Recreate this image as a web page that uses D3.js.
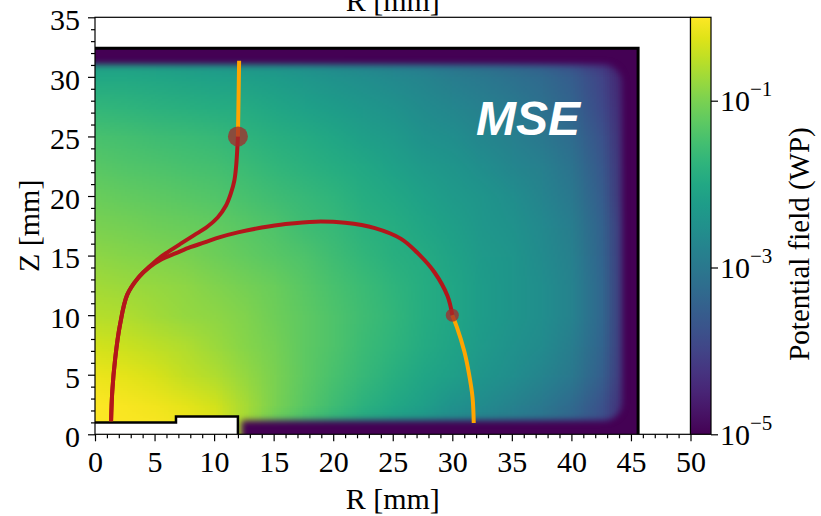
<!DOCTYPE html>
<html>
<head>
<meta charset="utf-8">
<script src="https://cdn.jsdelivr.net/npm/d3@7"></script>
<style>
	body { margin: 0; background: #fff; }
	svg { display: block; }
</style>
</head>
<body>
<svg id="plot" width="821" height="516"></svg>
<script>

const gridR = [0, 2.5, 5, 7.5, 10, 12.5, 15, 17.5, 20, 22.5, 25, 27.5, 30, 32.5, 35, 37.5, 40, 42.5, 45];
const gridZ = [0, 2.5, 5, 7.5, 10, 12.5, 15, 17.5, 20, 22.5, 25, 27.5, 30, 32.5];

// log10(WP), one row per gridZ value, columns follow gridR
const logWP = [
	[0, 0, 0, -0.05, -0.15, -0.7, -1.3, -1.7, -2.0, -2.25, -2.45, -2.6, -2.8, -2.95, -3.1, -3.25, -3.5, -3.9, -4.6],
	[0, -0.05, -0.1, -0.2, -0.35, -0.65, -1.0, -1.3, -1.55, -1.8, -2.0, -2.2, -2.45, -2.6, -2.8, -3.0, -3.3, -3.75, -4.6],
	[-0.15, -0.2, -0.3, -0.45, -0.6, -0.8, -1.0, -1.25, -1.45, -1.65, -1.85, -2.05, -2.2, -2.4, -2.55, -2.75, -3.0, -3.5, -4.5],
	[-0.35, -0.4, -0.5, -0.6, -0.75, -0.9, -1.05, -1.25, -1.4, -1.6, -1.75, -1.95, -2.1, -2.3, -2.45, -2.6, -2.9, -3.4, -4.5],
	[-0.55, -0.6, -0.7, -0.8, -0.85, -0.95, -1.1, -1.25, -1.4, -1.55, -1.7, -1.9, -2.05, -2.25, -2.4, -2.55, -2.8, -3.35, -4.5],
	[-0.7, -0.75, -0.8, -0.85, -0.95, -1.05, -1.15, -1.3, -1.45, -1.6, -1.75, -1.9, -2.05, -2.25, -2.4, -2.55, -2.8, -3.35, -4.5],
	[-0.85, -0.9, -0.95, -1.0, -1.1, -1.2, -1.3, -1.4, -1.55, -1.7, -1.85, -1.95, -2.1, -2.3, -2.4, -2.6, -2.85, -3.4, -4.5],
	[-1.0, -1.05, -1.1, -1.15, -1.2, -1.3, -1.4, -1.55, -1.65, -1.8, -1.9, -2.05, -2.2, -2.35, -2.45, -2.65, -2.9, -3.45, -4.5],
	[-1.15, -1.2, -1.25, -1.3, -1.35, -1.45, -1.55, -1.65, -1.75, -1.9, -2.0, -2.15, -2.3, -2.4, -2.55, -2.75, -3.0, -3.55, -4.6],
	[-1.3, -1.35, -1.4, -1.45, -1.5, -1.6, -1.7, -1.8, -1.9, -2.0, -2.15, -2.3, -2.4, -2.55, -2.7, -2.85, -3.1, -3.65, -4.6],
	[-1.45, -1.5, -1.55, -1.6, -1.65, -1.75, -1.85, -1.95, -2.05, -2.2, -2.3, -2.45, -2.55, -2.7, -2.85, -3.0, -3.25, -3.75, -4.65],
	[-1.7, -1.75, -1.8, -1.85, -1.9, -1.95, -2.05, -2.15, -2.25, -2.35, -2.45, -2.6, -2.7, -2.85, -2.95, -3.15, -3.4, -3.9, -4.7],
	[-2.0, -2.0, -2.05, -2.1, -2.15, -2.2, -2.25, -2.35, -2.45, -2.55, -2.65, -2.75, -2.9, -3.0, -3.15, -3.3, -3.55, -4.0, -4.8],
	[-2.5, -2.5, -2.55, -2.6, -2.65, -2.7, -2.75, -2.85, -2.95, -3.05, -3.15, -3.25, -3.4, -3.5, -3.65, -3.8, -4.05, -4.5, -5.0]
];

// Detector geometry (mm): outer contact edge, point contact outline, active volume
const detectorOuter = [[0, 32.4], [45.6, 32.4], [45.6, 0]];
const pointContact = [[0, 1.0], [6.8, 1.0], [6.8, 1.5], [12, 1.5], [12, 0]];
const activeVolume = {rMax: 44.3, zMin: 1.15, zMax: 31.05};

// Interaction points and drift paths (mm)
const interactions = [[12, 25], [30, 10]];
const holePath1 = [[12, 25], [11.95, 24], [11.85, 22.5], [11.7, 21.3], [11.4, 20.2], [11, 19.2], [10.3, 18.2],
	[9.4, 17.4], [8.3, 16.7], [7.2, 16], [6.2, 15.35], [5.4, 14.8], [4.6, 14.1], [3.6, 13.1], [2.7, 11.7],
	[2.1, 9.2], [1.7, 6.4], [1.45, 3.6], [1.35, 1.1]];
const holePath2 = [[30, 10], [29.6, 11.6], [28.5, 13.6], [27.1, 15.2], [25.7, 16.4], [23.5, 17.3], [21, 17.75],
	[18.5, 17.85], [16, 17.65], [14, 17.35], [12, 16.95], [10.5, 16.55], [9.2, 16.1], [8, 15.7], [6.8, 15.2],
	[5.6, 14.7], [4.6, 14.05], [3.6, 13.1], [2.7, 11.7], [2.1, 9.2], [1.7, 6.4], [1.45, 3.6], [1.35, 1.1]];
const electronPath1 = [[12, 25], [12.05, 28], [12.1, 31.35]];
const electronPath2 = [[30, 10], [30.4, 8.96], [31, 7], [31.4, 5.1], [31.7, 3.1], [31.8, 0.95]];

// Tick labels
const xTicks = [0, 5, 10, 15, 20, 25, 30, 35, 40, 45, 50];
const yTicks = [0, 5, 10, 15, 20, 25, 30, 35];
const cbarTickExp = [-1, -3, -5];

const SERIF = "'Liberation Serif', 'Times New Roman', 'DejaVu Serif', serif";

// Scales
const x = d3.scaleLinear().domain([0, 50]).range([95, 690.5]);
const y = d3.scaleLinear().domain([0, 35]).range([434.3, 17.3]);
const cbar = d3.scaleLog().domain([1e-5, 1]).range([434.3, 17.3]);
const color = d3.scaleSequential(d3.interpolateViridis).domain([-5, 0]);

const svg = d3.select("#plot");
const defs = svg.append("defs");

// Clip to the detector body
defs.append("clipPath").attr("id", "detClip")
	.append("rect")
	.attr("x", x(0)).attr("y", y(32.4))
	.attr("width", x(45.6) - x(0)).attr("height", y(0) - y(32.4));

// Soft mask: the field fades into the (zero) outer contact layer
defs.append("filter").attr("id", "soft")
	.attr("x", "-20%").attr("y", "-20%").attr("width", "140%").attr("height", "140%")
	.append("feGaussianBlur").attr("stdDeviation", 3);

const mask = defs.append("mask").attr("id", "activeMask")
	.attr("maskUnits", "userSpaceOnUse")
	.attr("x", 0).attr("y", 0).attr("width", 821).attr("height", 516);
const mg = mask.append("g").attr("filter", "url(#soft)");
mg.append("rect")
	.attr("x", x(-3)).attr("y", y(activeVolume.zMax))
	.attr("width", x(activeVolume.rMax) - x(-3))
	.attr("height", y(activeVolume.zMin) - y(activeVolume.zMax))
	.attr("rx", 18).attr("ry", 18)
	.attr("fill", "#fff");
mg.append("rect")
	.attr("x", x(-3)).attr("y", y(4))
	.attr("width", x(12.3) - x(-3)).attr("height", y(-3) - y(4))
	.attr("fill", "#fff");

// Heatmap: one pixel per grid node, scaled up smoothly by the browser
const canvas = document.createElement("canvas");
canvas.width = gridR.length;
canvas.height = gridZ.length;
const ctx = canvas.getContext("2d");
gridZ.forEach((z, j) => {
	gridR.forEach((r, i) => {
		ctx.fillStyle = color(logWP[j][i]);
		ctx.fillRect(i, gridZ.length - 1 - j, 1, 1);
	});
});
const dR = gridR[1] - gridR[0];
const dZ = gridZ[1] - gridZ[0];

const det = svg.append("g").attr("clip-path", "url(#detClip)");

det.append("rect")
	.attr("x", x(0)).attr("y", y(32.4))
	.attr("width", x(45.6) - x(0)).attr("height", y(0) - y(32.4))
	.attr("fill", color(-5));

det.append("image")
	.attr("href", canvas.toDataURL())
	.attr("preserveAspectRatio", "none")
	.attr("x", x(gridR[0] - dR / 2))
	.attr("y", y(gridZ[gridZ.length - 1] + dZ / 2))
	.attr("width", x(gridR[gridR.length - 1] + dR / 2) - x(gridR[0] - dR / 2))
	.attr("height", y(gridZ[0] - dZ / 2) - y(gridZ[gridZ.length - 1] + dZ / 2))
	.attr("mask", "url(#activeMask)");

// Point contact (white) and its outline
const toPx = d => [x(d[0]), y(d[1])];
svg.append("path")
	.attr("d", d3.line()(pointContact.concat([[0, 0]]).map(toPx)) + "Z")
	.attr("fill", "#fff");
svg.append("path")
	.attr("d", d3.line()(pointContact.map(toPx)))
	.attr("fill", "none").attr("stroke", "#000").attr("stroke-width", 2.5);

// Outer contact edge
svg.append("path")
	.attr("d", d3.line()(detectorOuter.map(toPx)))
	.attr("fill", "none").attr("stroke", "#000").attr("stroke-width", 3);

// Drift paths
const pathLine = d3.line()
	.x(d => x(d[0]))
	.y(d => y(d[1]))
	.curve(d3.curveCatmullRom);

[holePath1, holePath2].forEach(p => {
	svg.append("path")
		.attr("d", pathLine(p))
		.attr("fill", "none").attr("stroke", "#b3161b").attr("stroke-width", 4);
});
[electronPath1, electronPath2].forEach(p => {
	svg.append("path")
		.attr("d", pathLine(p))
		.attr("fill", "none").attr("stroke", "#ffa500").attr("stroke-width", 4);
});

// Interaction points
const markerR = [10, 6.5];
svg.selectAll("circle.hit")
	.data(interactions)
	.enter()
	.append("circle")
		.attr("class", "hit")
		.attr("cx", d => x(d[0]))
		.attr("cy", d => y(d[1]))
		.attr("r", (d, i) => markerR[i])
		.attr("fill", "#a52a2a")
		.attr("fill-opacity", 0.75);

// Label
svg.append("text")
	.attr("x", 476).attr("y", 134.5)
	.style("font-family", "'Liberation Sans', Arial, sans-serif")
	.style("font-weight", "bold")
	.style("font-style", "italic")
	.style("font-size", "48px")
	.style("fill", "#fff")
	.text("MSE");

// Axes
const minorX = d3.range(0, 51).filter(v => v % 5 !== 0);
const minorY = d3.range(0, 36).filter(v => v % 5 !== 0);

svg.append("g")
	.classed("axis axis-x", true)
	.attr("transform", "translate(0," + y(0) + ")")
	.call(d3.axisBottom(x).tickValues(minorX).tickSize(4).tickFormat(""));
svg.append("g")
	.classed("axis axis-x", true)
	.attr("transform", "translate(0," + y(0) + ")")
	.call(d3.axisBottom(x).tickValues(xTicks).tickSize(7).tickPadding(9).tickFormat(d3.format("d")));

svg.append("g")
	.classed("axis axis-y", true)
	.attr("transform", "translate(" + x(0) + ",0)")
	.call(d3.axisLeft(y).tickValues(minorY).tickSize(4).tickFormat(""));
svg.append("g")
	.classed("axis axis-y", true)
	.attr("transform", "translate(" + x(0) + ",0)")
	.call(d3.axisLeft(y).tickValues(yTicks).tickSize(7).tickPadding(8).tickFormat(d3.format("d")));

svg.selectAll(".axis-y text").attr("dy", "0.41em");
svg.selectAll(".axis .domain").remove();
svg.selectAll(".axis line").attr("stroke-width", 1.2);
svg.selectAll(".axis")
	.attr("font-family", null)
	.attr("font-size", null);
svg.selectAll(".axis text")
	.style("font-family", SERIF)
	.style("font-size", "30px")
	.style("fill", "#000");

// Spines
svg.append("rect")
	.attr("x", x(0)).attr("y", y(35))
	.attr("width", x(50) - x(0)).attr("height", y(0) - y(35))
	.attr("fill", "none").attr("stroke", "#000").attr("stroke-width", 1.2);

// Colorbar
const cbX0 = 690.5, cbX1 = 711;
const grad = defs.append("linearGradient").attr("id", "viridisGrad")
	.attr("x1", "0%").attr("y1", "100%").attr("x2", "0%").attr("y2", "0%");
grad.selectAll("stop")
	.data(d3.range(0, 1.0001, 0.05))
	.enter()
	.append("stop")
		.attr("offset", d => (d * 100) + "%")
		.attr("stop-color", d => d3.interpolateViridis(d));

svg.append("rect")
	.attr("x", cbX0).attr("y", cbar(1))
	.attr("width", cbX1 - cbX0).attr("height", cbar(1e-5) - cbar(1))
	.attr("fill", "url(#viridisGrad)")
	.attr("stroke", "#000").attr("stroke-width", 1.2);

const cAxis = svg.append("g")
	.classed("axis-c", true)
	.attr("transform", "translate(" + cbX1 + ",0)")
	.call(d3.axisRight(cbar).tickValues(cbarTickExp.map(e => Math.pow(10, e))).tickSize(7).tickFormat(""));
cAxis.select(".domain").remove();
cAxis.selectAll("line").attr("stroke-width", 1.2);
cAxis.selectAll(".tick").each(function (d, i) {
	const t = d3.select(this).append("text")
		.attr("x", 9).attr("y", 10)
		.attr("text-anchor", "start")
		.style("font-family", SERIF)
		.style("font-size", "30px")
		.style("fill", "#000");
	t.append("tspan").text("10");
	t.append("tspan").attr("dy", -15).style("font-size", "21px").text("\u2212" + Math.abs(cbarTickExp[i]));
});

// Axis titles
function title(tx, ty, rot, txt, size) {
	svg.append("text")
		.attr("transform", "translate(" + tx + "," + ty + ")" + (rot ? " rotate(" + rot + ")" : ""))
		.attr("text-anchor", "middle")
		.style("font-family", SERIF)
		.style("font-size", (size || 30) + "px")
		.style("fill", "#000")
		.text(txt);
}
title((x(0) + x(50)) / 2, 509, 0, "R [mm]");
title((x(0) + x(50)) / 2, 11, 0, "R [mm]");
title(39, (y(0) + y(35)) / 2, -90, "Z [mm]");
title(809, 244, -90, "Potential field (WP)", 29);

</script>
</body>
</html>
